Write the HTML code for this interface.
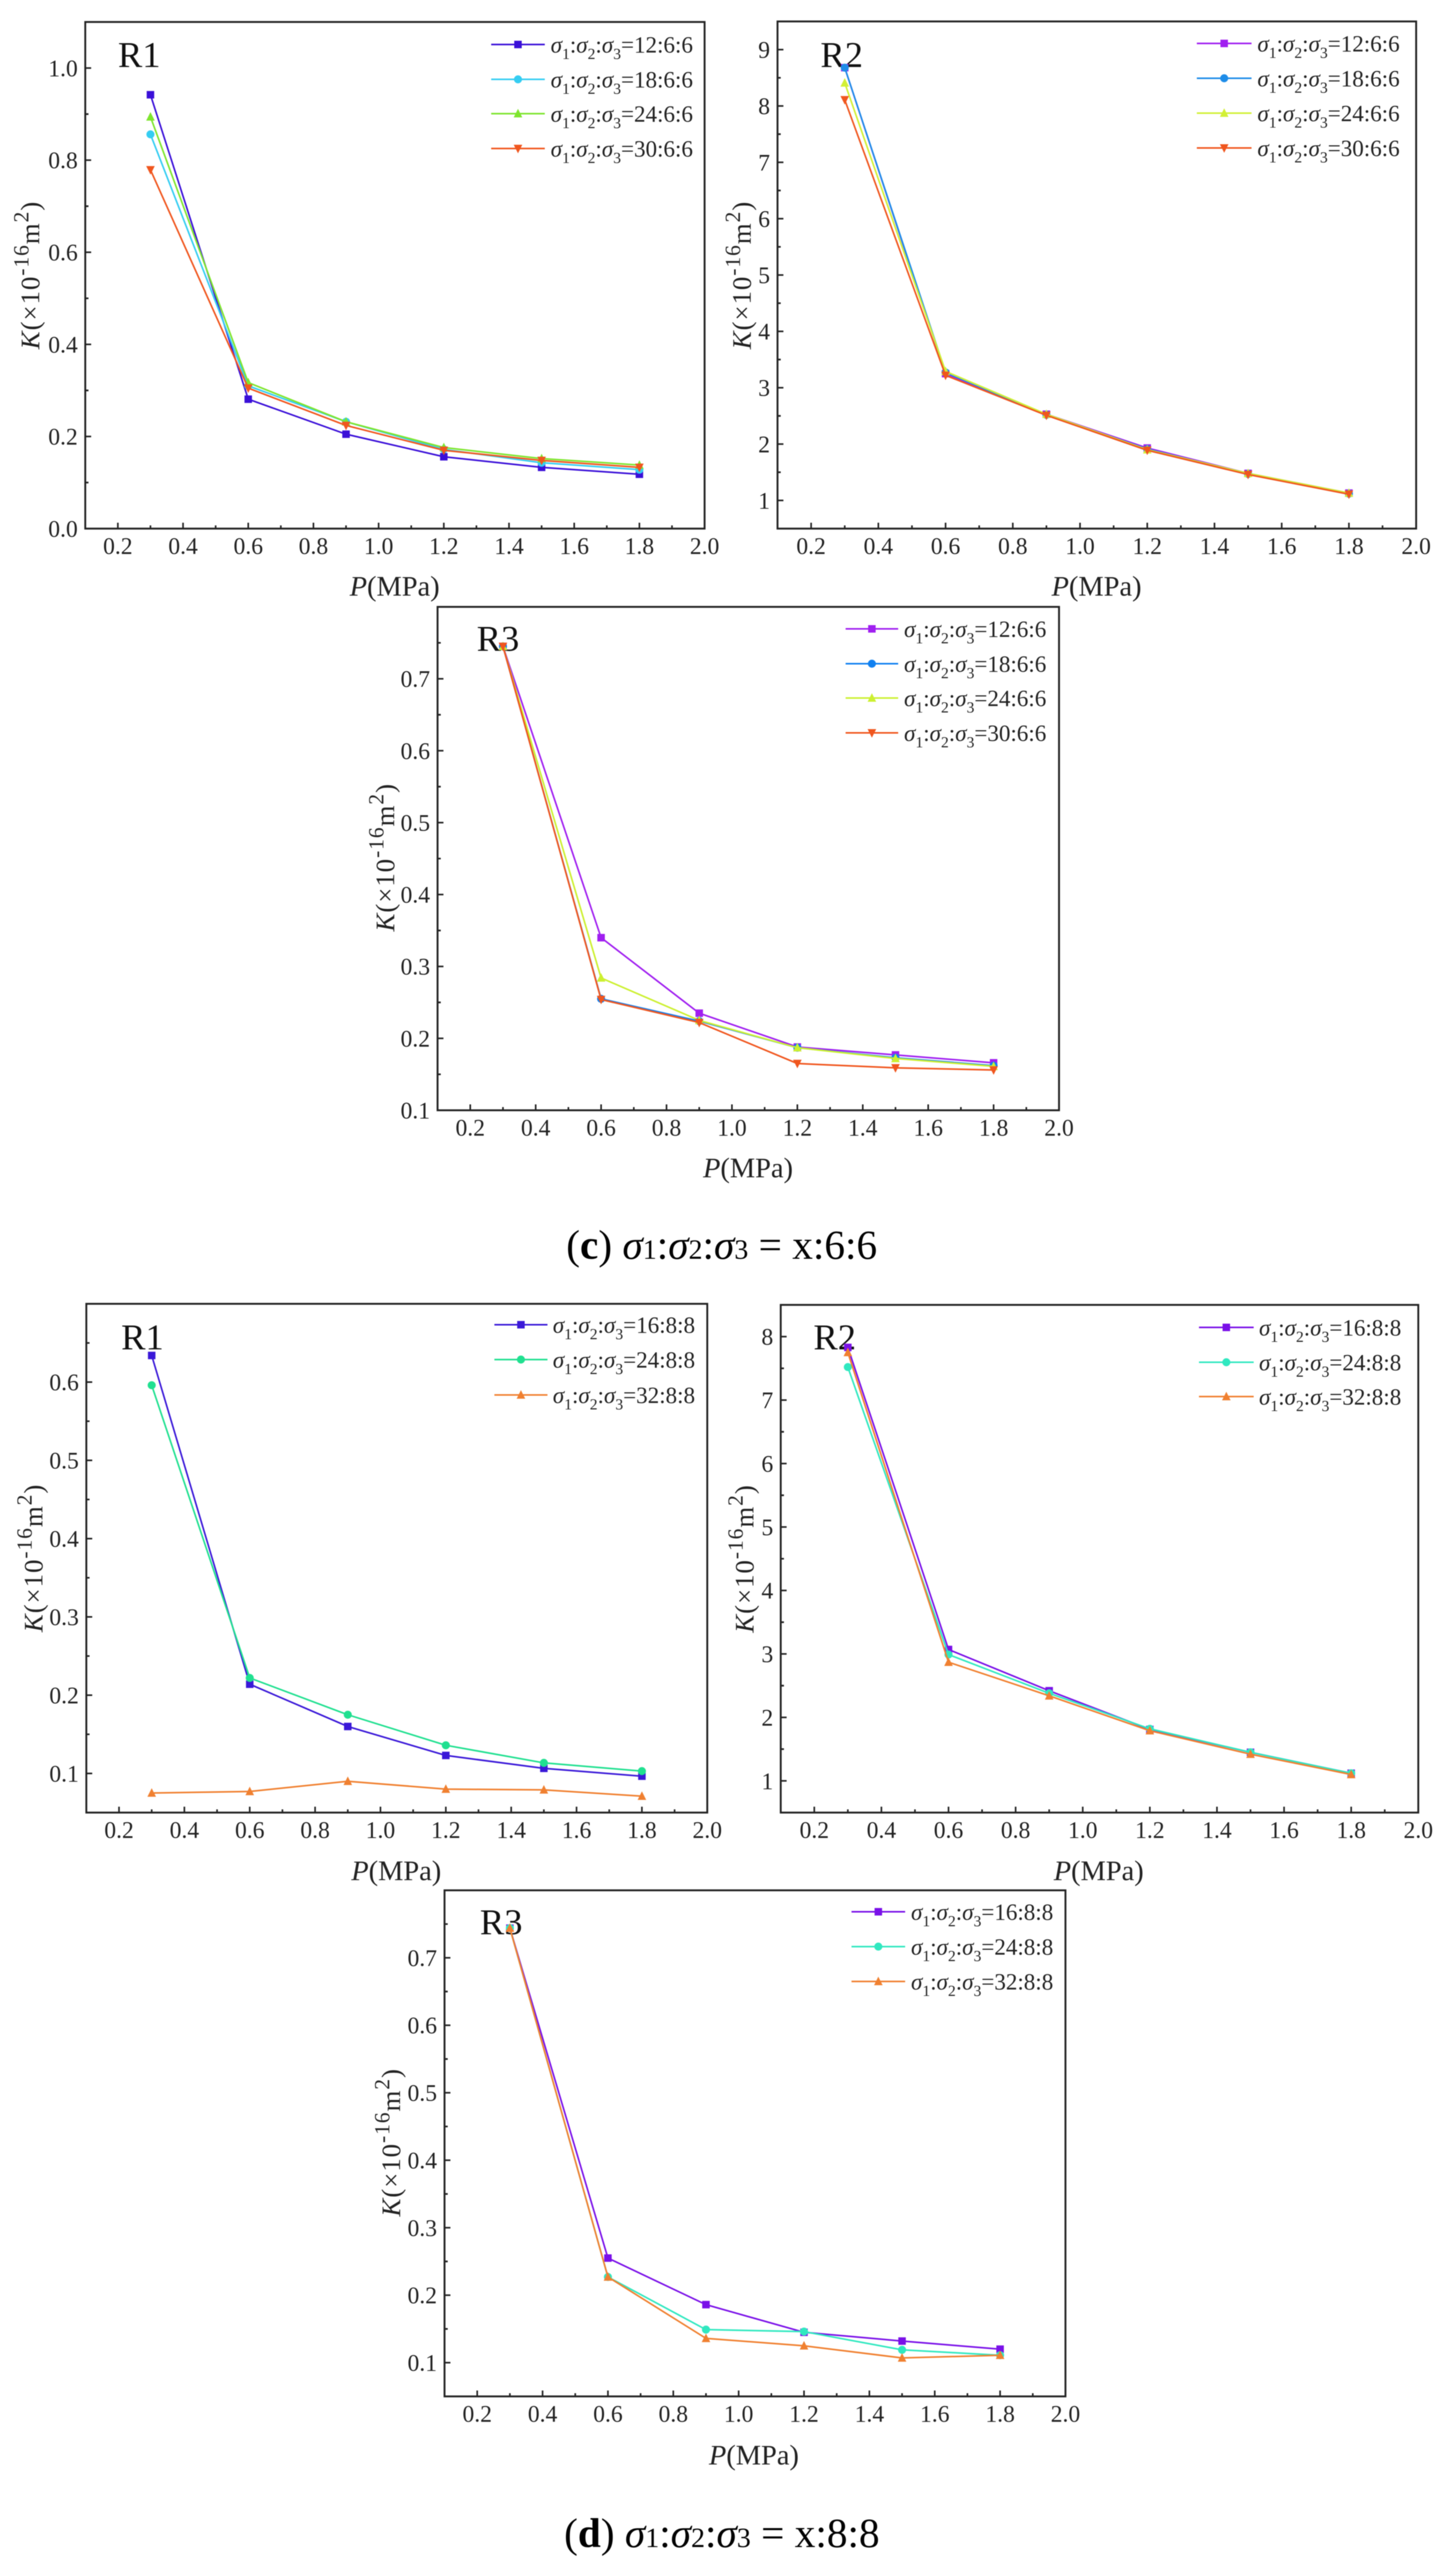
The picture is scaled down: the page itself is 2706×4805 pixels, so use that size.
<!DOCTYPE html>
<html lang="en">
<head>
<meta charset="utf-8">
<title>Permeability K versus pressure P under true triaxial stress ratios</title>
<style>
  html, body { margin: 0; padding: 0; background: #ffffff; }
  #figure { display: block; width: 2706px; height: 4805px; font-family: "Liberation Serif", serif; filter: blur(0.7px); }
</style>
</head>
<body>
<svg id="figure" xmlns="http://www.w3.org/2000/svg" width="2706" height="4805" viewBox="0 0 2706 4805"></svg>
<script>
/* ---------- shared data ---------- */
const pressures = [0.3, 0.6, 0.9, 1.2, 1.5, 1.8];
const xTickLabels = ['0.2', '0.4', '0.6', '0.8', '1.0', '1.2', '1.4', '1.6', '1.8', '2.0'];
const ratiosC = ['12:6:6', '18:6:6', '24:6:6', '30:6:6'];
const ratiosD = ['16:8:8', '24:8:8', '32:8:8'];

/* ---------- panel (c) R1 ---------- */
const cR1YTicks = ['0.0', '0.2', '0.4', '0.6', '0.8', '1.0'];
const cR1Domain = [0, 1.1];
const cR1S12 = [0.942, 0.281, 0.205, 0.156, 0.133, 0.118];
const cR1S18 = [0.856, 0.310, 0.232, 0.172, 0.143, 0.128];
const cR1S24 = [0.894, 0.317, 0.232, 0.176, 0.152, 0.138];
const cR1S30 = [0.779, 0.305, 0.224, 0.170, 0.148, 0.133];

/* ---------- panel (c) R2 ---------- */
const cR2YTicks = ['1', '2', '3', '4', '5', '6', '7', '8', '9'];
const cR2Domain = [0.5, 9.5];
const cR2S12 = [8.68, 3.25, 2.53, 1.93, 1.48, 1.13];
const cR2S18 = [8.68, 3.27, 2.52, 1.91, 1.47, 1.12];
const cR2S24 = [8.41, 3.29, 2.53, 1.90, 1.48, 1.13];
const cR2S30 = [8.11, 3.22, 2.51, 1.89, 1.46, 1.11];

/* ---------- panel (c) R3 ---------- */
const cR3YTicks = ['0.1', '0.2', '0.3', '0.4', '0.5', '0.6', '0.7'];
const cR3Domain = [0.1, 0.8];
const cR3S12 = [0.745, 0.340, 0.235, 0.188, 0.177, 0.166];
const cR3S18 = [0.745, 0.255, 0.224, 0.187, 0.173, 0.162];
const cR3S24 = [0.745, 0.284, 0.225, 0.187, 0.172, 0.161];
const cR3S30 = [0.745, 0.254, 0.222, 0.165, 0.159, 0.156];

/* ---------- panel (d) R1 ---------- */
const dR1YTicks = ['0.1', '0.2', '0.3', '0.4', '0.5', '0.6'];
const dR1Domain = [0.05, 0.7];
const dR1S16 = [0.634, 0.214, 0.160, 0.123, 0.1065, 0.0965];
const dR1S24 = [0.596, 0.222, 0.175, 0.136, 0.1135, 0.103];
const dR1S32 = [0.075, 0.077, 0.090, 0.080, 0.079, 0.071];

/* ---------- panel (d) R2 ---------- */
const dR2YTicks = ['1', '2', '3', '4', '5', '6', '7', '8'];
const dR2Domain = [0.5, 8.5];
const dR2S16 = [7.83, 3.07, 2.42, 1.81, 1.45, 1.12];
const dR2S24 = [7.52, 2.99, 2.38, 1.82, 1.45, 1.12];
const dR2S32 = [7.75, 2.87, 2.34, 1.79, 1.42, 1.10];

/* ---------- panel (d) R3 ---------- */
const dR3YTicks = ['0.1', '0.2', '0.3', '0.4', '0.5', '0.6', '0.7'];
const dR3Domain = [0.05, 0.8];
const dR3S16 = [0.744, 0.255, 0.186, 0.145, 0.132, 0.120];
const dR3S24 = [0.744, 0.227, 0.149, 0.146, 0.119, 0.111];
const dR3S32 = [0.744, 0.227, 0.136, 0.125, 0.107, 0.111];

/* ---------- layout and styling ---------- */
const NS = 'http://www.w3.org/2000/svg';
const svg = document.getElementById('figure');
const INK = '#222222';
const xDomain = [0.1, 2.0];
const shapes = ['square', 'circle', 'up', 'down'];
const shapes3 = ['square', 'circle', 'up'];

const panels = [
  { id: 'c-r1', title: 'R1', titleX: 220, titleY: 125, frame: [159, 41, 1314, 986], domain: cR1Domain, yTicks: cR1YTicks, minorY: 0.1,
    values: [cR1S12, cR1S18, cR1S24, cR1S30], ratios: ratiosC, colors: ['#3a0fd8', '#35cdf2', '#7ee52e', '#f0561e'], markers: shapes,
    legend: { x1: 916, x2: 1016, tx: 1027, ys: [83, 148, 212, 277] }, yLabel: [73, 513], xLabel: [736, 1111] },
  { id: 'c-r2', title: 'R2', titleX: 1530, titleY: 125, frame: [1450, 40, 2641, 986], domain: cR2Domain, yTicks: cR2YTicks, minorY: 0.5,
    values: [cR2S12, cR2S18, cR2S24, cR2S30], ratios: ratiosC, colors: ['#a01ff0', '#1e8ce8', '#d2f035', '#f0561e'], markers: shapes,
    legend: { x1: 2232, x2: 2334, tx: 2345, ys: [81, 146, 211, 276] }, yLabel: [1400, 513], xLabel: [2045, 1111] },
  { id: 'c-r3', title: 'R3', titleX: 889, titleY: 1214, frame: [816, 1132, 1975, 2071], domain: cR3Domain, yTicks: cR3YTicks, minorY: 0.05,
    values: [cR3S12, cR3S18, cR3S24, cR3S30], ratios: ratiosC, colors: ['#a01ff0', '#1080f0', '#ccf030', '#f0561e'], markers: shapes,
    legend: { x1: 1577, x2: 1675, tx: 1686, ys: [1173, 1238, 1302, 1367] }, yLabel: [735, 1599], xLabel: [1395, 2196] },
  { id: 'd-r1', title: 'R1', titleX: 226, titleY: 2517, frame: [161, 2432, 1319, 3381], domain: dR1Domain, yTicks: dR1YTicks, minorY: 0.05,
    values: [dR1S16, dR1S24, dR1S32], ratios: ratiosD, colors: ['#3a18d8', '#20e090', '#f08030'], markers: shapes3,
    legend: { x1: 922, x2: 1021, tx: 1031, ys: [2471, 2536, 2602] }, yLabel: [79, 2906], xLabel: [739, 3507] },
  { id: 'd-r2', title: 'R2', titleX: 1517, titleY: 2517, frame: [1456, 2434, 2645, 3381], domain: dR2Domain, yTicks: dR2YTicks, minorY: 0.5,
    values: [dR2S16, dR2S24, dR2S32], ratios: ratiosD, colors: ['#7a10e8', '#30e8c0', '#f08030'], markers: shapes3,
    legend: { x1: 2236, x2: 2338, tx: 2348, ys: [2476, 2541, 2605] }, yLabel: [1405, 2907], xLabel: [2049, 3507] },
  { id: 'd-r3', title: 'R3', titleX: 895, titleY: 3608, frame: [829, 3526, 1987, 4470], domain: dR3Domain, yTicks: dR3YTicks, minorY: 0.05,
    values: [dR3S16, dR3S24, dR3S32], ratios: ratiosD, colors: ['#7a10e8', '#30e8c0', '#f08030'], markers: shapes3,
    legend: { x1: 1588, x2: 1688, tx: 1699, ys: [3566, 3631, 3696] }, yLabel: [746, 3996], xLabel: [1406, 4597] }
];

function make(tag, attrs, parent) {
  const node = document.createElementNS(NS, tag);
  for (const key in attrs) node.setAttribute(key, attrs[key]);
  parent.appendChild(node);
  return node;
}

function span(parent, text, attrs) {
  const node = make('tspan', attrs || {}, parent);
  node.textContent = text;
  return node;
}

function drawMarker(parent, shape, cx, cy, color) {
  const r = 7;
  let el;
  if (shape === 'square') {
    el = make('rect', { x: cx - r, y: cy - r, width: 2 * r, height: 2 * r, fill: color }, parent);
  } else if (shape === 'circle') {
    el = make('circle', { cx: cx, cy: cy, r: r + 0.5, fill: color }, parent);
  } else if (shape === 'up') {
    el = make('polygon', { points: (cx - r - 1) + ',' + (cy + r) + ' ' + (cx + r + 1) + ',' + (cy + r) + ' ' + cx + ',' + (cy - r - 2), fill: color }, parent);
  } else {
    el = make('polygon', { points: (cx - r - 1) + ',' + (cy - r) + ' ' + (cx + r + 1) + ',' + (cy - r) + ' ' + cx + ',' + (cy + r + 2), fill: color }, parent);
  }
  
  
  return el;
}

function drawPanel(p) {
  const left = p.frame[0], top = p.frame[1], right = p.frame[2], bottom = p.frame[3];
  const xScale = v => left + (v - xDomain[0]) / (xDomain[1] - xDomain[0]) * (right - left);
  const yScale = v => bottom - (v - p.domain[0]) / (p.domain[1] - p.domain[0]) * (bottom - top);

  const g = make('g', {}, svg);
  
  

  const frame = make('rect', { x: left, y: top, width: right - left, height: bottom - top, fill: '#ffffff', stroke: INK, 'stroke-width': 3.5 }, g);
  
  

  /* x axis: major ticks with labels, minor ticks halfway */
  xTickLabels.forEach(label => {
    const v = parseFloat(label);
    const tick = make('line', { x1: xScale(v), x2: xScale(v), y1: bottom, y2: bottom - 11, stroke: INK, 'stroke-width': 3 }, g);
    
    
    const minorV = v + 0.1;
    if (minorV < xDomain[1]) {
      const minor = make('line', { x1: xScale(minorV), x2: xScale(minorV), y1: bottom, y2: bottom - 6, stroke: INK, 'stroke-width': 3 }, g);
      
      
    }
    const text = make('text', { x: xScale(v), y: bottom + 47, 'text-anchor': 'middle', 'font-size': 44, fill: INK }, g);
    text.textContent = label;
    
    
  });

  /* y axis */
  p.yTicks.forEach(label => {
    const v = parseFloat(label);
    const tick = make('line', { x1: left, x2: left + 11, y1: yScale(v), y2: yScale(v), stroke: INK, 'stroke-width': 3 }, g);
    
    
    const text = make('text', { x: left - 14, y: yScale(v) + 15, 'text-anchor': 'end', 'font-size': 44, fill: INK }, g);
    text.textContent = label;
    
    
    [v - p.minorY, v + p.minorY].forEach(mv => {
      if (mv > p.domain[0] + 1e-6 && mv < p.domain[1] - 1e-6) {
        const minor = make('line', { x1: left, x2: left + 6, y1: yScale(mv), y2: yScale(mv), stroke: INK, 'stroke-width': 3 }, g);
        
        
      }
    });
  });

  /* axis titles */
  const xTitle = make('text', { x: p.xLabel[0], y: p.xLabel[1], 'text-anchor': 'middle', 'font-size': 53, fill: INK }, g);
  span(xTitle, 'P', { 'font-style': 'italic' });
  span(xTitle, '(MPa)');
  
  

  const yTitle = make('text', { x: p.yLabel[0], y: p.yLabel[1], 'text-anchor': 'middle', 'font-size': 50, fill: INK, 'letter-spacing': 1.8,
    transform: 'rotate(-90 ' + p.yLabel[0] + ' ' + p.yLabel[1] + ')' }, g);
  span(yTitle, 'K', { 'font-style': 'italic' });
  span(yTitle, '(×10');
  span(yTitle, '-16', { 'font-size': 40, dy: -20 });
  span(yTitle, 'm', { dy: 20 });
  span(yTitle, '2', { 'font-size': 40, dy: -20 });
  span(yTitle, ')', { dy: 20 });
  
  

  /* region label */
  const regionLabel = make('text', { x: p.titleX, y: p.titleY, 'font-size': 68, fill: '#111111' }, g);
  regionLabel.textContent = p.title;
  
  

  /* series */
  p.values.forEach((vals, i) => {
    const points = vals.map((v, k) => xScale(pressures[k]) + ',' + yScale(v)).join(' ');
    const line = make('polyline', { points: points, fill: 'none', stroke: p.colors[i], 'stroke-width': 3, 'stroke-linejoin': 'round' }, g);
    
    
    vals.forEach((v, k) => drawMarker(g, p.markers[i], xScale(pressures[k]), yScale(v), p.colors[i]));
  });

  /* legend */
  p.ratios.forEach((ratio, i) => {
    const ly = p.legend.ys[i];
    const entry = make('g', {}, g);
    
    
    const swatch = make('line', { x1: p.legend.x1, x2: p.legend.x2, y1: ly, y2: ly, stroke: p.colors[i], 'stroke-width': 3 }, entry);
    
    
    drawMarker(entry, p.markers[i], (p.legend.x1 + p.legend.x2) / 2, ly, p.colors[i]);
    const label = make('text', { x: p.legend.tx, y: ly + 15, 'font-size': 43, fill: INK }, entry);
    span(label, 'σ', { 'font-style': 'italic' });
    span(label, '1', { 'font-size': 29, dy: 12 });
    span(label, ':', { dy: -12 });
    span(label, 'σ', { 'font-style': 'italic' });
    span(label, '2', { 'font-size': 29, dy: 12 });
    span(label, ':', { dy: -12 });
    span(label, 'σ', { 'font-style': 'italic' });
    span(label, '3', { 'font-size': 29, dy: 12 });
    span(label, '=' + ratio, { dy: -12 });
    
    
  });
}

panels.forEach(drawPanel);

/* ---------- captions ---------- */
function drawCaption(letter, tail, startX, baseline) {
  const cap = make('text', { x: startX, y: baseline, 'font-size': 77, fill: '#000000' }, svg);
  span(cap, '(');
  span(cap, letter, { 'font-weight': 'bold' });
  span(cap, ')');
  span(cap, ' ');
  span(cap, 'σ', { 'font-style': 'italic' });
  span(cap, '1', { 'font-size': 52 });
  span(cap, ':');
  span(cap, 'σ', { 'font-style': 'italic' });
  span(cap, '2', { 'font-size': 52 });
  span(cap, ':');
  span(cap, 'σ', { 'font-style': 'italic' });
  span(cap, '3', { 'font-size': 52 });
  span(cap, ' = ' + tail);
  return cap;
}

const captionC = drawCaption('c', 'x:6:6', 1056, 2348);



const captionD = drawCaption('d', 'x:8:8', 1052, 4751);


</script>
</body>
</html>
